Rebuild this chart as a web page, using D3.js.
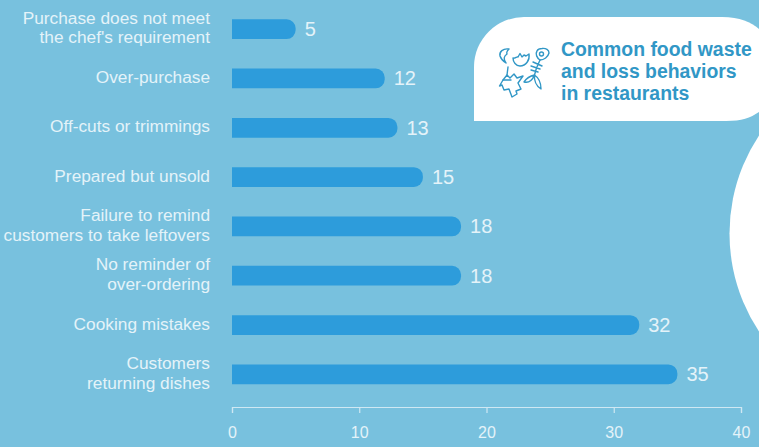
<!DOCTYPE html>
<html>
<head>
<meta charset="utf-8">
<script src="https://cdn.jsdelivr.net/npm/d3@7/dist/d3.min.js"></script>
<style>
  html, body { margin: 0; padding: 0; background: #78c1de; overflow: hidden; }
  svg { display: block; font-family: "Liberation Sans", Arial, sans-serif; }
</style>
</head>
<body>
<svg id="chart" width="759" height="447"></svg>
<script>
// Chart content
const categories = [
  ["Purchase does not meet", "the chef's requirement"],
  ["Over-purchase"],
  ["Off-cuts or trimmings"],
  ["Prepared but unsold"],
  ["Failure to remind", "customers to take leftovers"],
  ["No reminder of", "over-ordering"],
  ["Cooking mistakes"],
  ["Customers", "returning dishes"]
];
const values = [5, 12, 13, 15, 18, 18, 32, 35];
const tickValues = [0, 10, 20, 30, 40];
const titleLines = ["Common food waste", "and loss behaviors", "in restaurants"];

const BG = "#78c1de", BAR = "#2d9cdb", INK = "#e4f3f9", TITLE = "#3197c6";

const svg = d3.select("#chart");

const x = d3.scaleLinear().domain([0, 40]).range([232, 741]);
const y = d3.scaleBand().domain(d3.range(categories.length)).range([4.5, 399]).paddingInner(0.6).paddingOuter(0.3);

// White decorative shapes behind the chart
svg.append("circle").attr("cx", 907).attr("cy", 233.5).attr("r", 177.5).attr("fill", "#fff");
svg.append("path").attr("fill", "#fff")
  .attr("d", "M474 121 V67 A50 50 0 0 1 524 17 H722 C740 17 751 22 759 29 V112 C750 118 742 121 726 121 Z");

// Bars: square at the baseline, round at the value end
const barPath = (v, i) => {
  const x0 = x(0), x1 = x(v), top = y(i), h = y.bandwidth(), r = Math.min(9, h / 2);
  return `M${x0} ${top} H${x1 - r} A${r} ${r} 0 0 1 ${x1} ${top + r} V${top + h - r} A${r} ${r} 0 0 1 ${x1 - r} ${top + h} H${x0} Z`;
};
svg.append("g").selectAll("path").data(values).join("path")
  .attr("d", barPath).attr("fill", BAR);

// Value labels
svg.append("g").selectAll("text").data(values).join("text")
  .attr("x", d => x(d) + 9)
  .attr("y", (d, i) => y(i) + y.bandwidth() / 2 + 7)
  .attr("fill", INK).attr("font-size", 20).text(d => d);

// Category labels, one or two lines
const catGroups = svg.append("g").selectAll("text").data(categories).join("text")
  .attr("text-anchor", "end").attr("fill", INK).attr("font-size", 17.3);
catGroups.each(function (lines, i) {
  const mid = y(i) + y.bandwidth() / 2;
  d3.select(this).selectAll("tspan").data(lines).join("tspan")
    .attr("x", 210)
    .attr("y", (l, j) => mid + 4.5 + (j - (lines.length - 1) / 2) * 19.5)
    .text(l => l);
});

// Value axis
const axis = svg.append("g").attr("transform", "translate(0,407)")
  .call(d3.axisBottom(x).tickValues(tickValues).tickSize(6).tickPadding(14).tickSizeOuter(6));
axis.selectAll("path, line").attr("stroke", "#cfe8f3").attr("stroke-width", 1.2);
axis.selectAll("text").attr("fill", INK).attr("font-size", 16)
  .attr("font-family", "'Liberation Sans', Arial, sans-serif");

// Panel title
svg.append("g").selectAll("text").data(titleLines).join("text")
  .attr("x", 561).attr("y", (d, i) => 56 + i * 22.2)
  .attr("fill", TITLE).attr("font-size", 19.4).attr("font-weight", 700).text(d => d);

// Food scraps icon: shell, bitten fruit, apple core and fish skeleton
const icon = svg.append("g").attr("fill", "none").attr("stroke", TITLE)
  .attr("stroke-width", 1.4).attr("stroke-linecap", "round").attr("stroke-linejoin", "round");
[
  "M509 49 C503 48 499 52 500 56 C501 59 503 61 506 63 C503 59 504 56 507 54 C506 52 508 50 509 49 Z",
  "M513 58 C515 59 517 56 518 57 L520 53.5 L522 57 L524 55 L526 56 L529 54 C530 60 526 66 520 66 C516 66 513 62 513 58 Z",
  "M508 67 L507 75",
  "M507 75 L503 80 L499.5 86 L502 85 L504 90 L509 89 L512 97 L517 94 L516 91 L521 89 L518 83 L523 76 L517 78 L514 74 L510 78 L507 75",
  "M503 80 L511 80",
  "M542 48.5 C546 48 549 50 549 53 C548 57 544 60 540 60 C537 58 535 54 537 51 C538 49 540 48.5 542 48.5 Z",
  "M540 60 L536.5 68 L534.5 75 M533 62 L542 66 M531 66 L540 69 M531 70 L538 72",
  "M534.5 75 C530 76 526 79 524 82 C528 83 532 81 534.5 75 C534 80 536 86 541 89 C541 84 539 78 534.5 75 Z"
].forEach(d => icon.append("path").attr("d", d));
icon.append("circle").attr("cx", 541.5).attr("cy", 54).attr("r", 2);
</script>
</body>
</html>
